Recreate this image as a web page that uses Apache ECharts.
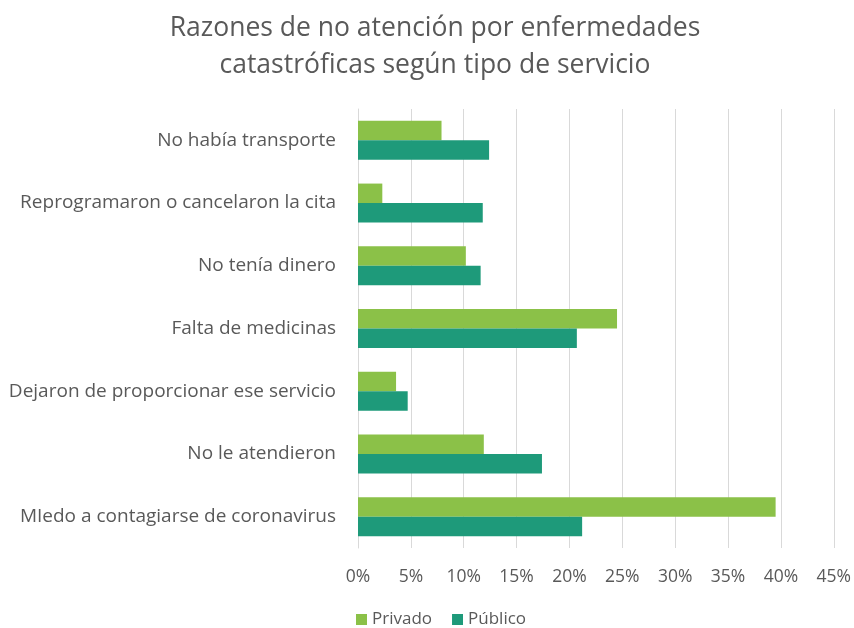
<!DOCTYPE html>
<html><head><meta charset="utf-8">
<script src="https://cdn.jsdelivr.net/npm/echarts@6/dist/echarts.min.js"></script>
<style>html,body{margin:0;padding:0;background:#fff}#c{width:854px;height:628px}</style>
</head><body><div id="c"></div>
<script>
const categories = ["No había transporte","Reprogramaron o cancelaron la cita","No tenía dinero","Falta de medicinas","Dejaron de proporcionar ese servicio","No le atendieron","MIedo a contagiarse de coronavirus"];
const privado = [7.9, 2.3, 10.2, 24.5, 3.6, 11.9, 39.5];
const publico = [12.4, 11.8, 11.6, 20.7, 4.7, 17.4, 21.2];
const seriesNames = ["Privado","Público"];
const FONT = "Open Sans";
const chart = echarts.init(document.getElementById('c'));
chart.setOption({
  animation:false,
  title:{text:"Razones de no atención por enfermedades\ncatastróficas según tipo de servicio",left:430,textAlign:'center',top:5,
    textStyle:{fontFamily:FONT,fontSize:26.5,fontWeight:'normal',color:'#595959',lineHeight:37}},
  legend:{top:606,left:351,itemWidth:11,itemHeight:11,itemGap:20,icon:'rect',
    textStyle:{fontFamily:FONT,fontSize:17,color:'#595959'},data:seriesNames},
  grid:{left:358,right:19,top:109,bottom:80,containLabel:false},
  xAxis:{type:'value',min:0,max:45,interval:5,
    axisLabel:{formatter:'{value}%',fontFamily:FONT,fontSize:17.5,color:'#595959',margin:20},
    splitLine:{lineStyle:{color:'#d9d9d9',width:1}},axisLine:{show:false},axisTick:{show:false}},
  yAxis:{type:'category',inverse:true,data:categories,
    axisLabel:{fontFamily:FONT,fontSize:19,color:'#595959',margin:22},
    axisLine:{show:true,lineStyle:{color:'#d9d9d9'}},axisTick:{show:false}},
  series:[
    {name:seriesNames[0],type:'bar',data:privado,barWidth:19.5,barGap:'0%',itemStyle:{color:'#8BC148'}},
    {name:seriesNames[1],type:'bar',data:publico,barWidth:19.5,barGap:'0%',itemStyle:{color:'#1E9A7A'}}
  ]
});
</script></body></html>
